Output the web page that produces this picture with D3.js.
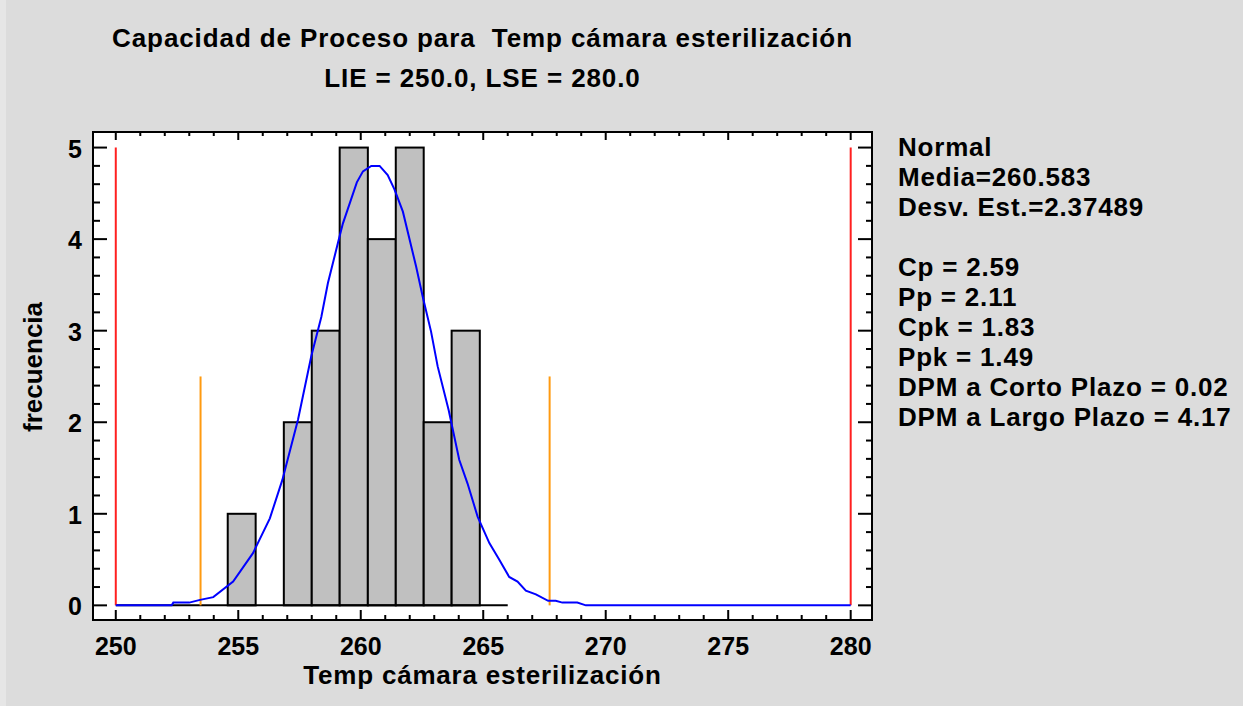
<!DOCTYPE html>
<html lang="es">
<head>
    <meta charset="utf-8">
    <title>Capacidad de Proceso</title>
    <script type="text/javascript" src="https://d3js.org/d3.v7.min.js"></script>
    <style type="text/css">
        body { margin: 0; background: #dcdcdc; }
        svg { font-family: "Liberation Sans", Arial, sans-serif; font-weight: bold; }
        text { white-space: pre; }
    </style>
</head>
<body>
<script type="text/javascript">

    // histogram bins (edges) and counts
    var binEdges = [250.00, 251.14, 252.29, 253.43, 254.57, 255.71, 256.86, 258.00,
                    259.14, 260.29, 261.43, 262.57, 263.71, 264.86, 266.00];
    var binCounts = [0, 0, 0, 0, 1, 0, 2, 3, 5, 4, 5, 2, 3, 0];

    // fitted normal curve
    var curveX = [250.0, 252.28, 252.35, 253.0, 253.44, 253.98, 254.79, 255.6, 256.29, 256.8,
                  257.44, 257.98, 258.39, 258.66, 259.07, 259.27, 259.84, 260.09, 260.43,
                  260.77, 261.10, 261.38, 261.72, 262.26, 262.53, 262.87, 263.14, 263.59,
                  264.02, 264.36, 264.77, 265.25, 265.65, 266.06, 266.40, 266.74, 267.15,
                  267.65, 267.96, 268.23, 268.84, 269.19, 280.0];
    var curveY = [0, 0, 0.03, 0.03, 0.06, 0.09, 0.26, 0.57, 0.95, 1.37,
                  2.03, 2.72, 3.15, 3.52, 3.96, 4.17, 4.62, 4.74, 4.80,
                  4.80, 4.70, 4.54, 4.30, 3.70, 3.37, 2.99, 2.61, 2.13,
                  1.59, 1.33, 0.97, 0.68, 0.50, 0.31, 0.26, 0.16, 0.12,
                  0.05, 0.05, 0.03, 0.03, 0, 0];

    var specLimits = [250, 280];        // LIE, LSE
    var specHeight = 5;
    var sigmaLimits = [253.46, 267.71]; // media +/- 3 sigma
    var sigmaHeight = 2.5;

    var xTicks = [250, 255, 260, 265, 270, 275, 280];
    var yTicks = [0, 1, 2, 3, 4, 5];

    var titleLines = ["Capacidad de Proceso para  Temp cámara esterilización",
                      "LIE = 250.0, LSE = 280.0"];
    var statsLines = ["Normal", "Media=260.583", "Desv. Est.=2.37489", "",
                      "Cp = 2.59", "Pp = 2.11", "Cpk = 1.83", "Ppk = 1.49",
                      "DPM a Corto Plazo = 0.02", "DPM a Largo Plazo = 4.17"];

    var width = 1243, height = 706;
    var plotL = 93, plotR = 872, plotT = 132, plotB = 620;

    var x = d3.scaleLinear().domain([249.07, 280.87]).range([plotL, plotR]);
    var y = d3.scaleLinear().domain([-0.16, 5.17]).range([plotB, plotT]);

    var svg = d3.select("body").append("svg")
        .attr("width", width)
        .attr("height", height);

    svg.append("rect").attr("width", width).attr("height", height).attr("fill", "#dcdcdc");
    svg.append("rect").attr("width", 6).attr("height", height).attr("fill", "#e6e6e6");

    // plot area
    svg.append("rect")
        .attr("x", plotL).attr("y", plotT)
        .attr("width", plotR - plotL).attr("height", plotB - plotT)
        .attr("fill", "white");

    // bars
    var bins = binCounts.map(function(c, i) {
        return {x0: binEdges[i], x1: binEdges[i + 1], n: c};
    }).filter(function(d) { return d.n > 0; });

    svg.selectAll(".bar")
        .data(bins)
        .enter().append("rect")
        .attr("class", "bar")
        .attr("x", function(d) { return x(d.x0); })
        .attr("y", function(d) { return y(d.n); })
        .attr("width", function(d) { return x(d.x1) - x(d.x0); })
        .attr("height", function(d) { return y(0) - y(d.n); })
        .attr("fill", "#c0c0c0")
        .attr("stroke", "black")
        .attr("stroke-width", 2);

    svg.append("line")
        .attr("x1", x(binEdges[0])).attr("x2", x(binEdges[binEdges.length - 1]))
        .attr("y1", y(0)).attr("y2", y(0))
        .attr("stroke", "black").attr("stroke-width", 2);

    // spec limits and sigma lines
    svg.selectAll(".spec")
        .data(specLimits)
        .enter().append("line")
        .attr("x1", function(d) { return x(d); }).attr("x2", function(d) { return x(d); })
        .attr("y1", y(0)).attr("y2", y(specHeight))
        .attr("stroke", "#ff2020").attr("stroke-width", 2);

    svg.selectAll(".sigma")
        .data(sigmaLimits)
        .enter().append("line")
        .attr("x1", function(d) { return x(d); }).attr("x2", function(d) { return x(d); })
        .attr("y1", y(0)).attr("y2", y(sigmaHeight))
        .attr("stroke", "#ff9a10").attr("stroke-width", 2);

    // normal curve
    var line = d3.line()
        .x(function(d, i) { return x(curveX[i]); })
        .y(function(d) { return y(d); });

    svg.append("path")
        .attr("d", line(curveY))
        .attr("fill", "none")
        .attr("stroke", "#0000ff")
        .attr("stroke-width", 2);

    // frame
    svg.append("rect")
        .attr("x", plotL).attr("y", plotT)
        .attr("width", plotR - plotL).attr("height", plotB - plotT)
        .attr("fill", "none")
        .attr("stroke", "black").attr("stroke-width", 2);

    // ticks drawn inside the frame
    var xMinor = d3.range(250, 281, 1);
    var yMinor = d3.range(0, 5.01, 0.2);
    var ticks = svg.append("g").attr("stroke", "black").attr("stroke-width", 2);

    xMinor.forEach(function(v) {
        var major = v % 5 === 0;
        ticks.append("line")
            .attr("x1", x(v)).attr("x2", x(v))
            .attr("y1", plotB).attr("y2", plotB - (major ? 10 : 5));
        ticks.append("line")
            .attr("x1", x(v)).attr("x2", x(v))
            .attr("y1", plotT).attr("y2", plotT + (major ? 8 : 4));
    });
    yMinor.forEach(function(v) {
        var major = Math.abs(v - Math.round(v)) < 1e-6;
        ticks.append("line")
            .attr("x1", plotL).attr("x2", plotL + (major ? 14 : 7))
            .attr("y1", y(v)).attr("y2", y(v));
        ticks.append("line")
            .attr("x1", plotR).attr("x2", plotR - (major ? 14 : 6))
            .attr("y1", y(v)).attr("y2", y(v));
    });

    // tick labels
    svg.selectAll(".xlab")
        .data(xTicks)
        .enter().append("text")
        .attr("x", function(d) { return x(d); })
        .attr("y", 655)
        .attr("text-anchor", "middle")
        .attr("font-size", 25)
        .text(function(d) { return d; });

    svg.selectAll(".ylab")
        .data(yTicks)
        .enter().append("text")
        .attr("x", 82)
        .attr("y", function(d) { return y(d) + 10; })
        .attr("text-anchor", "end")
        .attr("font-size", 25)
        .text(function(d) { return d; });

    // axis titles
    svg.append("text")
        .attr("x", (plotL + plotR) / 2).attr("y", 684)
        .attr("text-anchor", "middle")
        .attr("font-size", 26)
        .attr("letter-spacing", 0.8)
        .text("Temp cámara esterilización");

    svg.append("text")
        .attr("transform", "translate(42,367) rotate(-90)")
        .attr("text-anchor", "middle")
        .attr("font-size", 26)
        .text("frecuencia");

    // title
    svg.selectAll(".title")
        .data(titleLines)
        .enter().append("text")
        .attr("x", (plotL + plotR) / 2)
        .attr("y", function(d, i) { return 47 + i * 40; })
        .attr("text-anchor", "middle")
        .attr("font-size", 26)
        .attr("letter-spacing", 0.9)
        .text(function(d) { return d; });

    // statistics panel
    svg.selectAll(".stats")
        .data(statsLines)
        .enter().append("text")
        .attr("x", 898)
        .attr("y", function(d, i) { return 156 + i * 30; })
        .attr("font-size", 26)
        .attr("letter-spacing", 0.8)
        .text(function(d) { return d; });

</script>
</body>
</html>
